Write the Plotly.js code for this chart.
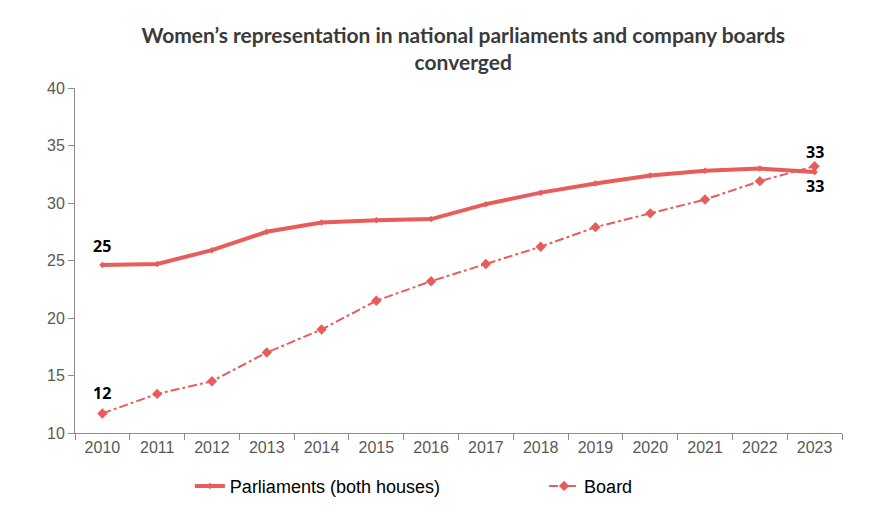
<!DOCTYPE html>
<html><head><meta charset="utf-8">
<script src="https://cdn.plot.ly/plotly-3.0.1.min.js"></script>
<style>html,body{margin:0;padding:0;background:#fff}#chart{width:879px;height:507px}</style>
</head><body><div id="chart"></div>
<script>
var years = [2010,2011,2012,2013,2014,2015,2016,2017,2018,2019,2020,2021,2022,2023];
var yearLabels = ['2010','2011','2012','2013','2014','2015','2016','2017','2018','2019','2020','2021','2022','2023'];
var parliaments = [24.6,24.7,25.9,27.5,28.3,28.5,28.6,29.9,30.9,31.7,32.4,32.8,33.0,32.7];
var board = [11.7,13.4,14.5,17.0,19.0,21.5,23.2,24.7,26.2,27.9,29.1,30.3,31.9,33.2];
var yTicks = [10,15,20,25,30,35,40];
var red = '#E85C5C';
var last = years.length - 1;
var boundaries = [];
for (var i = 0; i <= years.length; i++) boundaries.push(years[0] - 0.5 + i);

var traces = [
  {x: years, y: parliaments, name: 'Parliaments (both houses)', type: 'scatter', mode: 'lines+markers', legend: 'legend',
   line: {color: red, width: 4}, marker: {symbol: 'diamond', size: 5, color: red}},
  {x: years, y: board, name: 'Board', type: 'scatter', mode: 'lines+markers', legend: 'legend2',
   line: {color: red, width: 2, dash: 'dashdot'}, marker: {symbol: 'diamond', size: 8, color: red}}
];

var annFont = {family: 'Open Sans, Noto Sans, sans-serif', size: 16, color: '#000'};
var tickFont = {family: 'Liberation Sans, Arial, sans-serif', size: 16, color: '#595959'};
var legFont = {family: 'Liberation Sans, Arial, sans-serif', size: 18, color: '#000'};
var layout = {
  width: 879, height: 507,
  margin: {l: 75, r: 37, t: 88, b: 74},
  paper_bgcolor: '#fff', plot_bgcolor: '#fff',
  title: {text: '<b>Women’s representation in national parliaments and company boards<br>converged</b>',
    x: 0.527, xanchor: 'center', yref: 'container', y: 0.916, yanchor: 'middle',
    font: {family: 'Lato, sans-serif', size: 21, color: '#3a3a3a'}},
  xaxis: {range: [years[0] - 0.5, years[last] + 0.5], tickmode: 'array', tickvals: years, ticktext: yearLabels,
    showgrid: false, showline: true, linecolor: '#8c8c8c', linewidth: 1, ticks: '', zeroline: false,
    tickfont: tickFont,
    minor: {tickmode: 'array', tickvals: boundaries, ticks: 'outside', ticklen: 6, tickcolor: '#8c8c8c', showgrid: false}},
  yaxis: {range: [10, 40], tickmode: 'array', tickvals: yTicks, showgrid: false, showline: true, linecolor: '#8c8c8c', linewidth: 1,
    ticks: 'outside', ticklen: 6, tickcolor: '#8c8c8c', zeroline: false, tickfont: tickFont},
  showlegend: true,
  legend: {orientation: 'h', xref: 'container', yref: 'container', x: 0.216, xanchor: 'left', y: 0.041, yanchor: 'middle',
    bgcolor: 'rgba(0,0,0,0)', font: legFont},
  legend2: {orientation: 'h', xref: 'container', yref: 'container', x: 0.619, xanchor: 'left', y: 0.041, yanchor: 'middle',
    bgcolor: 'rgba(0,0,0,0)', font: legFont},
  annotations: [
    {x: years[0], y: parliaments[0], text: '<b>' + Math.round(parliaments[0]) + '</b>', showarrow: false, yshift: 19, font: annFont},
    {x: years[0], y: board[0], text: '<b>' + Math.round(board[0]) + '</b>', showarrow: false, yshift: 20, font: annFont},
    {x: years[last], y: board[last], text: '<b>' + Math.round(board[last]) + '</b>', showarrow: false, yshift: 14, font: annFont},
    {x: years[last], y: parliaments[last], text: '<b>' + Math.round(parliaments[last]) + '</b>', showarrow: false, yshift: -14, font: annFont}
  ]
};
Plotly.newPlot('chart', traces, layout, {displayModeBar: false});
</script></body></html>
